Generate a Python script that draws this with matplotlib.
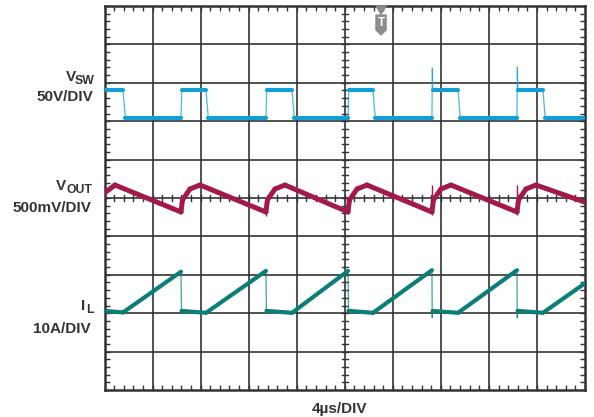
import numpy as np
import matplotlib
matplotlib.use("Agg")
import matplotlib.pyplot as plt
from matplotlib.collections import LineCollection
from matplotlib.patches import Polygon

plt.rcParams['font.family'] = ['Liberation Sans', 'DejaVu Sans']

# time base 4 us/div, 10 divisions
us_per_div = 4.0

# switch node: edge times (us) and levels (V), 50 V/div
vsw_rise_us = [6.37, 13.44, 20.27, 27.26, 34.34]
vsw_fall_us = [1.54, 8.45, 15.61, 22.35, 29.43, 36.50]
vsw_high_v = 36.5
vsw_low_v = 0.0
vsw_spike_us = [27.26, 34.34]
vsw_spike_v = [65.0, 66.0]

# output ripple (mV), 500 mV/div, ac coupled
vout_t_us = [0.00, 0.87, 6.37, 6.49, 7.12, 7.95, 13.44, 13.56, 14.19, 15.02,
             20.27, 20.39, 21.02, 21.85, 27.26, 27.38, 28.01, 28.84,
             34.34, 34.46, 35.09, 35.92, 40.0]
vout_mv = [65, 169, -182, -26, 117, 169, -182, -26, 117, 169,
           -182, -26, 117, 169, -182, -26, 117, 169,
           -182, -26, 117, 169, -55]
vout_spike_us = [13.44, 20.27, 27.26, 34.34]
vout_spike_lo = [-235, -200, -225, -225]
vout_spike_hi = [-150, -150, 170, 175]

# inductor current (A), 10 A/div
il_t_us = [0.0, 1.54, 6.37, 6.41, 8.45, 13.44, 13.48, 15.61, 20.27, 20.31,
           22.35, 27.26, 27.28, 27.31, 29.43, 34.34, 34.36, 34.39, 36.50, 40.0]
il_a = [10.6, 10.2, 20.8, 10.6, 10.1, 21.0, 10.6, 10.1, 21.0, 10.6,
        10.1, 21.2, 8.8, 10.6, 10.1, 21.2, 8.8, 10.6, 10.1, 17.8]

blue = '#129fd8'
red = '#a3194b'
teal = '#0b7f77'
txt = '#333333'

fig = plt.figure(figsize=(5.94, 4.17), dpi=100)
ax = fig.add_axes([104.5 / 594, 1 - 390 / 417, 480.5 / 594, 384 / 417])
ax.set_xlim(0, 10)
ax.set_ylim(0, 10)

# graticule
for k in range(1, 10):
    ax.axvline(k, color=txt, lw=1.2, zorder=1)
    ax.axhline(k, color=txt, lw=1.2, zorder=1)
for s in ax.spines.values():
    s.set_linewidth(1.8)
    s.set_color(txt)
minor = np.arange(0, 10.01, 0.2)
ax.set_xticks(minor)
ax.set_yticks(minor)
ax.tick_params(direction='in', length=3.5, width=1, color=txt,
               labelbottom=False, labelleft=False,
               top=True, right=True)
# center-line ticks
for m in minor:
    ax.plot([5 - 0.065, 5 + 0.065], [m, m], color=txt, lw=1, zorder=1)
    ax.plot([m, m], [5 - 0.08, 5 + 0.08], color=txt, lw=1, zorder=1)


def draw_trace(t, v, offset, scale, color, thin_dt, lw):
    x = np.asarray(t) / us_per_div
    y = offset + np.asarray(v) / scale
    pts = np.column_stack([x, y])
    segs = np.stack([pts[:-1], pts[1:]], axis=1)
    dt = np.diff(np.asarray(t))
    thin = dt < thin_dt
    lws = np.where(thin, 0.9, lw)
    alphas = np.where(thin, 0.75, 1.0)
    cols = [matplotlib.colors.to_rgba(color, a) for a in alphas]
    lc = LineCollection(segs, linewidths=lws, colors=cols,
                        capstyle='round', joinstyle='round', zorder=3)
    ax.add_collection(lc)


# build the switch-node step trace from its edges
edges = sorted([(f, 'f') for f in vsw_fall_us] + [(r, 'r') for r in vsw_rise_us])
vsw_t = [0.0]
vsw_v = [vsw_high_v]
for te, kind in edges:
    if kind == 'f':
        vsw_t += [te, te + 0.19]
        vsw_v += [vsw_high_v, vsw_low_v]
    else:
        vsw_t.append(te)
        vsw_v.append(vsw_low_v)
        if te in vsw_spike_us:
            vsw_t.append(te + 0.03)
            vsw_v.append(vsw_spike_v[vsw_spike_us.index(te)])
        vsw_t.append(te + 0.06)
        vsw_v.append(vsw_high_v)
vsw_t.append(40.0)
vsw_v.append(vsw_low_v)

draw_trace(vsw_t, vsw_v, 7.08, 50.0, blue, 0.25, 3.0)
draw_trace(vout_t_us, vout_mv, 5.0, 500.0, red, 0.05, 3.6)
ax.vlines(np.array(vout_spike_us) / us_per_div,
          5.0 + np.array(vout_spike_lo) / 500.0,
          5.0 + np.array(vout_spike_hi) / 500.0,
          color=red, lw=1.0, zorder=3)
draw_trace(il_t_us, il_a, 1.0, 10.0, teal, 0.1, 3.0)

# trigger marker
tx = 5.755
gray = '#8c8c8c'
ax.add_patch(Polygon([[tx - 0.105, 10.0], [tx + 0.105, 10.0], [tx, 9.79]],
                     closed=True, color=gray, clip_on=False, zorder=4))
ax.add_patch(Polygon([[tx - 0.105, 9.766], [tx + 0.105, 9.766], [tx + 0.105, 9.375],
                      [tx, 9.245], [tx - 0.105, 9.375]],
                     closed=True, color=gray, clip_on=False, zorder=4))
ax.text(tx, 9.56, 'T', color='white', fontsize=8.5, fontweight='bold',
        ha='center', va='center', zorder=5)


# channel labels
def flabel(x, y, s, size=11):
    fig.text(x / 594, 1 - y / 417, s, ha='right', va='baseline', fontsize=size,
             fontweight='bold', color=txt)


def fname(x_main_right, x_sub_right, y, main, sub):
    flabel(x_main_right, y, main)
    flabel(x_sub_right, y + 3, sub, size=8.8)


fname(76, 95, 81, 'V', 'SW')
flabel(93, 101, '50V/DIV')
fname(66, 92, 190, 'V', 'OUT')
flabel(91, 212, '500mV/DIV')
fname(85, 94, 310, 'I', 'L')
flabel(91, 333, '10A/DIV')
fig.text(339 / 594, 1 - 413 / 417, '4µs/DIV', ha='center', va='baseline',
         fontsize=11, fontweight='bold', color=txt)

fig.savefig('out.png', dpi=100)
